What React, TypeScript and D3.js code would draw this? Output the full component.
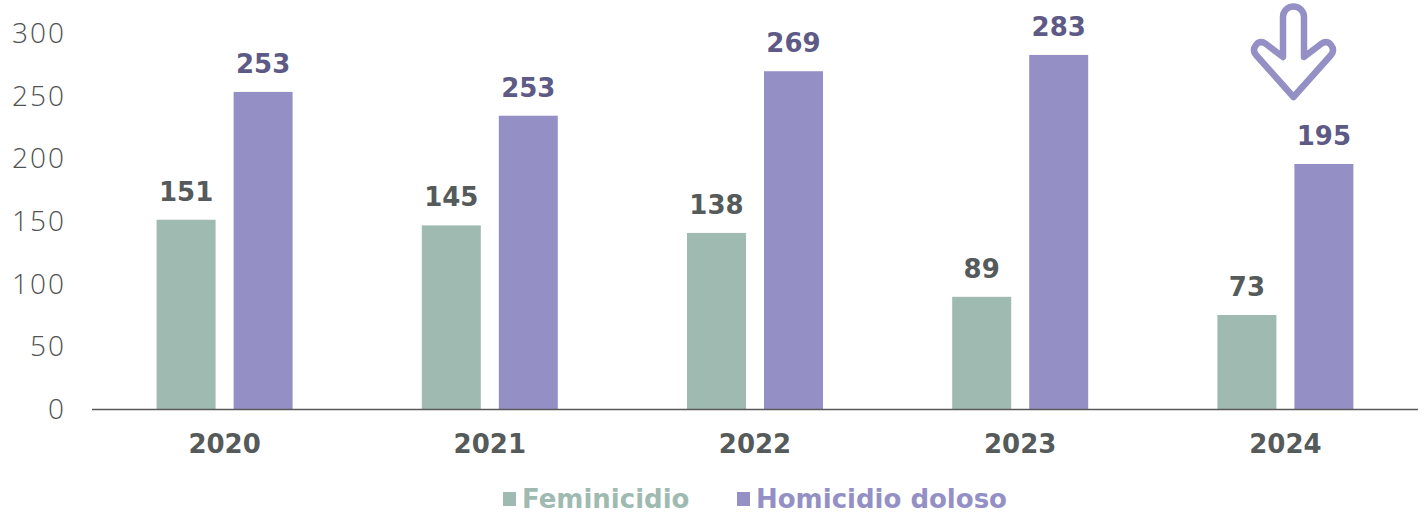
import React from "react";
import * as d3 from "d3";

const years = ["2020", "2021", "2022", "2023", "2024"];
const feminicidio = [151, 146.5, 140.5, 89.5, 75];
const homicidio = [253, 234, 269.5, 282.5, 195.5];
const feminicidioLabels = ["151", "145", "138", "89", "73"];
const homicidioLabels = ["253", "253", "269", "283", "195"];
const yTicks = [0, 50, 100, 150, 200, 250, 300];
const seriesNames = ["Feminicidio", "Homicidio doloso"];

const W = 1424;
const H = 516;
const GREEN = "#9fbab0";
const PURPLE = "#9490c6";
const BOLD_FONT = "'DejaVu Sans', 'Open Sans', sans-serif";
const LIGHT_FONT = "'Open Sans', 'Noto Sans', sans-serif";

export default function App() {
  const x = d3.scaleBand<string>().domain(years).range([92, 1418]).padding(0);
  const y = d3.scaleLinear().domain([0, 300]).range([409, 33]);
  const barW = 59;
  const gap = 18;

  const arrowPath =
    "M1283,57 L1283,17 A10.5,10.5 0 0 1 1304,17 L1304,57 L1321,44 Q1327,40 1331,45 Q1335,50 1331,55 L1293.5,97 L1256,55 Q1252,50 1256,45 Q1260,40 1266,44 Z";

  return (
    <svg
      width={W}
      height={H}
      style={{ position: "absolute", left: 0, top: 0, background: "#fff" }}
      fontFamily={BOLD_FONT}
    >
      {yTicks.map((t) => (
        <text
          key={t}
          x={66}
          y={y(t)}
          dy="0.36em"
          textAnchor="end"
          fontSize={28}
          fontWeight={300}
          fontFamily={LIGHT_FONT}
          letterSpacing={2}
          fill="#4f5353"
        >
          {t}
        </text>
      ))}
      {years.map((yr, i) => {
        const cx = (x(yr) as number) + x.bandwidth() / 2;
        const fx = cx - gap / 2 - barW;
        const hx = cx + gap / 2;
        return (
          <g key={yr}>
            <rect x={fx} y={y(feminicidio[i])} width={barW} height={y(0) - y(feminicidio[i])} fill={GREEN} />
            <rect x={hx} y={y(homicidio[i])} width={barW} height={y(0) - y(homicidio[i])} fill={PURPLE} />
            <text
              x={fx + barW / 2}
              y={y(feminicidio[i]) - 19}
              textAnchor="middle"
              fontSize={26}
              fontWeight={700}
              fill="#555a5a"
            >
              {feminicidioLabels[i]}
            </text>
            <text
              x={hx + barW / 2}
              y={y(homicidio[i]) - 19}
              textAnchor="middle"
              fontSize={26}
              fontWeight={700}
              fill="#5d5a86"
            >
              {homicidioLabels[i]}
            </text>
            <text
              x={cx}
              y={453}
              textAnchor="middle"
              fontSize={26}
              fontWeight={700}
              fill="#555a5a"
            >
              {yr}
            </text>
          </g>
        );
      })}
      <line x1={92} x2={1418} y1={409.5} y2={409.5} stroke="#595959" strokeWidth={1.5} />
      <path d={arrowPath} fill="none" stroke={PURPLE} strokeWidth={6.5} strokeLinejoin="round" />
      <g>
        <rect x={503} y={492} width={13} height={14} fill={GREEN} />
        <text x={522} y={508} fontSize={26} fontWeight={700} fill={GREEN}>
          {seriesNames[0]}
        </text>
        <rect x={737} y={492} width={13} height={14} fill={PURPLE} />
        <text x={756} y={508} fontSize={26} fontWeight={700} fill={PURPLE}>
          {seriesNames[1]}
        </text>
      </g>
    </svg>
  );
}
